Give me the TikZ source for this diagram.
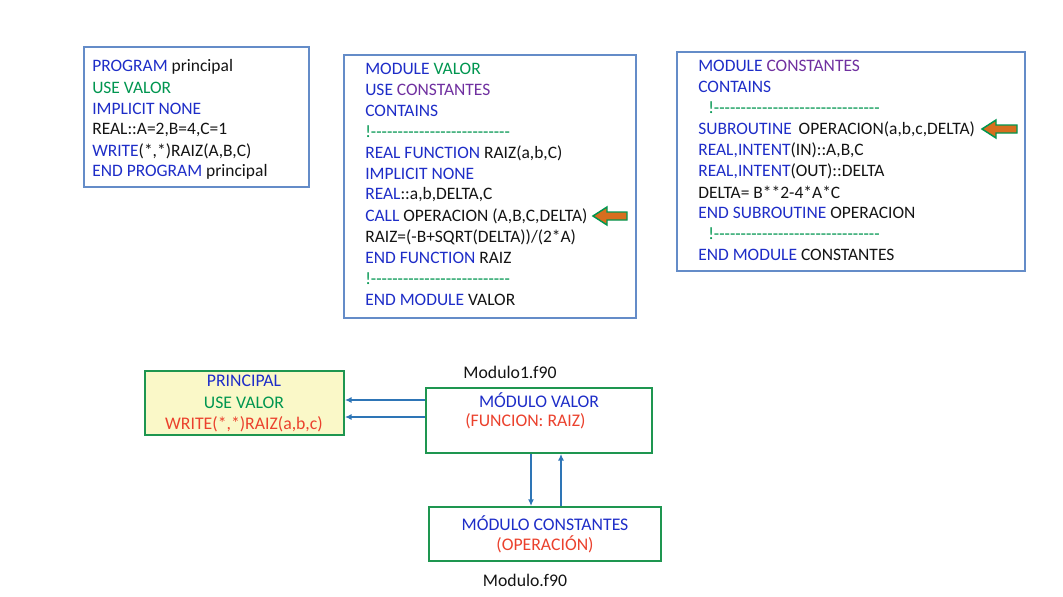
\documentclass[tikz,border=0pt]{standalone}
\usepackage{fontspec}
\setmainfont{Carlito}
\usetikzlibrary{arrows.meta}
\definecolor{kwblue}{RGB}{30,45,200}
\definecolor{kwgreen}{RGB}{0,150,80}
\definecolor{kwpurple}{RGB}{112,48,160}
\definecolor{kwred}{RGB}{235,65,45}
\definecolor{txt}{RGB}{20,20,20}
\definecolor{boxblue}{RGB}{100,140,200}
\definecolor{boxgreen}{RGB}{30,150,80}
\definecolor{arrowblue}{RGB}{46,117,182}
\definecolor{yellowfill}{RGB}{250,248,200}
\definecolor{arroworange}{RGB}{215,110,30}
\newcommand{\kb}[1]{{\color{kwblue}#1}}
\newcommand{\kg}[1]{{\color{kwgreen}#1}}
\newcommand{\kp}[1]{{\color{kwpurple}#1}}
\newcommand{\kr}[1]{{\color{kwred}#1}}
\newcommand{\dashesA}{!-{}-{}-{}-{}-{}-{}-{}-{}-{}-{}-{}-{}-{}-{}-{}-{}-{}-{}-{}-{}-{}-{}-{}-{}-{}-}
\newcommand{\dashesB}{!-{}-{}-{}-{}-{}-{}-{}-{}-{}-{}-{}-{}-{}-{}-{}-{}-{}-{}-{}-{}-{}-{}-{}-{}-{}-{}-{}-{}-{}-{}-}
\begin{document}
\begin{tikzpicture}[x=0.75pt,y=-0.75pt,
  codeline/.style={anchor=west,inner sep=0pt,text=txt,font=\fontsize{13.1}{16}\selectfont},
  dashline/.style={anchor=west,inner sep=0pt,text=kwgreen,font=\fontsize{13.1}{16}\selectfont},
  codebox/.style={draw=boxblue,line width=0.8pt},
  modbox/.style={draw=boxgreen,line width=1.4pt},
  lbl/.style={inner sep=0pt,text=txt,font=\fontsize{13.3}{15}\selectfont},
  centerline/.style={inner sep=0pt,font=\fontsize{13.3}{15}\selectfont},
  flow/.style={draw=arrowblue,line width=1.2pt,-{Latex[length=5pt,width=4.5pt]}},
  bigarrow/.style={draw=kwgreen,fill=arroworange,line width=1.1pt}
]
\fill[white] (0,0) rectangle (1063,596);
\useasboundingbox (0,0) rectangle (1063,596);

% Box 1
\draw[codebox] (84,47) rectangle (309,187);
\node[codeline] (p1) at (92,67) {\kb{PROGRAM} principal};
\node[codeline] (p2) at (92,88) {\kg{USE VALOR}};
\node[codeline] (p3) at (92,109) {\kb{IMPLICIT NONE}};
\node[codeline] (p4) at (92,130) {REAL::A=2,B=4,C=1};
\node[codeline] (p5) at (92,151) {\kb{WRITE}(*,*)RAIZ(A,B,C)};
\node[codeline] (p6) at (92,172) {\kb{END PROGRAM} principal};

% Box 2
\draw[codebox] (344,55) rectangle (636,318);
\node[codeline] (v1) at (365,69) {\kb{MODULE} \kg{VALOR}};
\node[codeline] (v2) at (365,90) {\kb{USE} \kp{CONSTANTES}};
\node[codeline] (v3) at (365,111) {\kb{CONTAINS}};
\node[dashline] (v4) at (365,132) {\dashesA};
\node[codeline] (v5) at (365,153) {\kb{REAL FUNCTION} RAIZ(a,b,C)};
\node[codeline] (v6) at (365,174) {\kb{IMPLICIT NONE}};
\node[codeline] (v7) at (365,195) {\kb{REAL}::a,b,DELTA,C};
\node[codeline] (v8) at (365,216) {\kb{CALL} OPERACION (A,B,C,DELTA)};
\node[codeline] (v9) at (365,237) {RAIZ=(-B+SQRT(DELTA))/(2*A)};
\node[codeline] (v10) at (365,258) {\kb{END FUNCTION} RAIZ};
\node[dashline] (v11) at (365,279) {\dashesA};
\node[codeline] (v12) at (365,300) {\kb{END MODULE} VALOR};
\draw[bigarrow] (593,216) -- (607,207) -- (607,212) -- (627,212) -- (627,220) -- (607,220) -- (607,225) -- cycle;

% Box 3
\draw[codebox] (677,52) rectangle (1025,271);
\node[codeline] (c1) at (698,66) {\kb{MODULE} \kp{CONSTANTES}};
\node[codeline] (c2) at (698,87) {\kb{CONTAINS}};
\node[dashline] (c3) at (708,108) {\dashesB};
\node[codeline] (c4) at (698,129) {\kb{SUBROUTINE}\hspace{2.2pt} OPERACION(a,b,c,DELTA)};
\node[codeline] (c5) at (698,150) {\kb{REAL,INTENT}(IN)::A,B,C};
\node[codeline] (c6) at (698,171) {\kb{REAL,INTENT}(OUT)::DELTA};
\node[codeline] (c7) at (698,192) {DELTA= B**2-4*A*C};
\node[codeline] (c8) at (698,213) {\kb{END SUBROUTINE} OPERACION};
\node[dashline] (c9) at (708,234) {\dashesB};
\node[codeline] (c10) at (698,255) {\kb{END MODULE} CONSTANTES};
\draw[bigarrow] (982,129) -- (996,120) -- (996,125) -- (1017,125) -- (1017,133) -- (996,133) -- (996,138) -- cycle;

% Bottom diagram
\node[modbox,fill=yellowfill,minimum width=199pt*0.75,minimum height=64pt*0.75,anchor=north west,inner sep=0pt] (principal) at (144,370) {};
\node[centerline,text=kwblue] (pr1) at (244,381) {PRINCIPAL};
\node[centerline,text=kwgreen] (pr2) at (244,403) {USE VALOR};
\node[centerline,text=kwred] (pr3) at (244,424) {WRITE(*,*)RAIZ(a,b,c)};

\node[modbox,minimum width=226pt*0.75,minimum height=65pt*0.75,anchor=north west,inner sep=0pt] (valor) at (425,387) {};
\node[centerline,text=kwblue] (va1) at (539,400) {MÓDULO VALOR};
\node[centerline,text=kwred,anchor=west] (va2) at (465,421) {(FUNCION: RAIZ)};
\node[lbl] (f1) at (510,372) {Modulo1.f90};

\node[modbox,minimum width=232pt*0.75,minimum height=54pt*0.75,anchor=north west,inner sep=0pt] (const) at (428,506) {};
\node[centerline,text=kwblue] (co1) at (545,523) {MÓDULO CONSTANTES};
\node[centerline,text=kwred] (co2) at (545,544) {(OPERACIÓN)};
\node[lbl] (f2) at (525,580) {Modulo.f90};

\draw[flow] (valor.west |- 0,400) -- (principal.east |- 0,400);
\draw[flow] (valor.west |- 0,417) -- (principal.east |- 0,417);
\draw[flow] (valor.south -| 531,0) -- (const.north -| 531,0);
\draw[flow] (const.north -| 561,0) -- (valor.south -| 561,0);
\end{tikzpicture}
\end{document}
